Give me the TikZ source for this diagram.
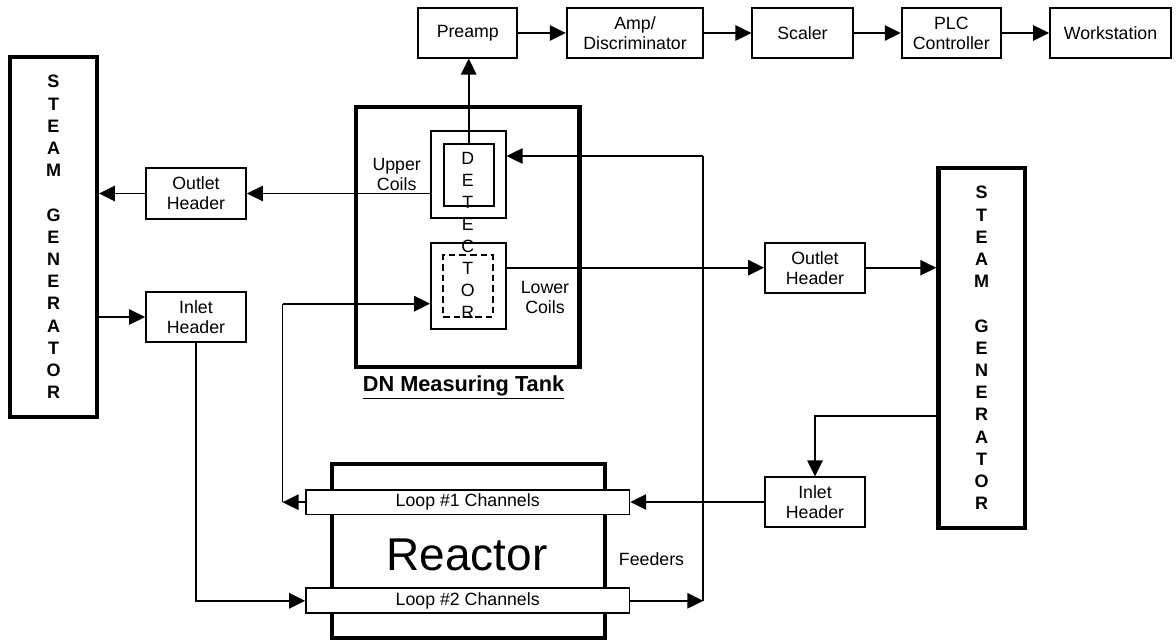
\documentclass[tikz,border=0pt]{standalone}
\usepackage{fontspec}
\setmainfont{Liberation Sans}
\usetikzlibrary{arrows.meta}
\begin{document}
\begin{tikzpicture}[x=0.75pt,y=-0.75pt,
  ln/.style={line width=1.3pt},
  arr/.style={line width=1.3pt, -{Triangle[length=12pt,width=11.5pt]}},
  box/.style={draw, line width=1.3pt, inner sep=0pt, align=center, font=\fontsize{13.3}{15}\selectfont},
  heavy/.style={draw, line width=3.2pt, inner sep=0pt},
  sgbox/.style={heavy, minimum width=65pt, minimum height=270pt, align=center, font=\fontsize{13.5}{16.65}\bfseries\selectfont},
  lbl/.style={inner sep=0pt, align=center, font=\fontsize{13.3}{15}\selectfont},
]
\fill[white] (0,0) rectangle (1176,641);
\useasboundingbox (0,0) rectangle (1176,641);

% top chain
\node[box, minimum width=74.25pt, minimum height=37pt] (preamp) at (467.8,33) {Preamp};
\node[box, minimum width=102.5pt, minimum height=37pt] (amp) at (635,33) {Amp/\\Discriminator};
\node[box, minimum width=75.3pt, minimum height=37pt] (scaler) at (802.5,33) {Scaler};
\node[box, minimum width=74.5pt, minimum height=37pt] (plc) at (951.3,33) {PLC\\Controller};
\node[box, minimum width=90.75pt, minimum height=37pt] (ws) at (1110.5,33) {Workstation};
\draw[arr] (preamp) -- (amp);
\draw[arr] (amp) -- (scaler);
\draw[arr] (scaler) -- (plc);
\draw[arr] (plc) -- (ws);

% steam generators
\node[sgbox] (sgL) at (53.5,237) {S\\T\\E\\A\\M\\[16.65pt]G\\E\\N\\E\\R\\A\\T\\O\\R};
\node[sgbox] (sgR) at (981.7,348) {S\\T\\E\\A\\M\\[16.65pt]G\\E\\N\\E\\R\\A\\T\\O\\R};

% headers
\node[box, minimum width=75pt, minimum height=38.25pt] (outL) at (196,193.5) {Outlet\\Header};
\node[box, minimum width=75pt, minimum height=38pt] (inL) at (196,317) {Inlet\\Header};
\node[box, minimum width=75pt, minimum height=37.5pt] (outR) at (815,267.7) {Outlet\\Header};
\node[box, minimum width=75pt, minimum height=37pt] (inR) at (815,502) {Inlet\\Header};

% measuring tank
\node[heavy, minimum width=167.6pt, minimum height=195pt] (tank) at (467.75,237) {};
\node[box, minimum width=56.25pt, minimum height=65.25pt] (upcoil) at (468.2,174.8) {};
\node[box, minimum width=37.5pt, minimum height=46.5pt] (detin) at (468.7,175) {};
\node[box, minimum width=56.25pt, minimum height=65pt] (lowcoil) at (468.5,286) {};
\node[box, dashed, dash pattern=on 5pt off 3pt, minimum width=37.5pt, minimum height=46.3pt] (detdash) at (468,285.8) {};
\node[lbl, font=\fontsize{13.3}{16.5}\selectfont] (dettxt) at (467.7,235) {D\\E\\T\\E\\C\\T\\O\\R};
\node[lbl] (uplbl) at (396.7,174) {Upper\\Coils};
\node[lbl] (lowlbl) at (545,297) {Lower\\Coils};
\node[inner sep=0pt, anchor=base, font=\fontsize{16.3}{18}\bfseries\selectfont] (tanklbl) at (463.5,391.7) {\underline{DN Measuring Tank}};

% reactor
\node[heavy, minimum width=205pt, minimum height=130.7pt] (reactor) at (468.3,551.2) {};
\node[inner sep=0pt, font=\fontsize{34.5}{40}\selectfont] (reactortxt) at (467,555) {Reactor};
\node[box, fill=white, minimum width=242.5pt, minimum height=18.25pt] (loop1) at (467.7,502.2) {Loop \#1 Channels};
\node[box, fill=white, minimum width=242.5pt, minimum height=18.75pt] (loop2) at (467.7,600.8) {Loop \#2 Channels};
\node[lbl] (feeders) at (651.5,559) {Feeders};

% coordinates
\coordinate (c1) at (282.5,502.2);
\coordinate (c2) at (282.5,303.7);
\coordinate (c3) at (938.3,415.7);
\coordinate (c4) at (703.3,600.8);
\coordinate (c5) at (703.3,156);

% connectors
\draw[arr] (detin.north) -- (detin.north |- preamp.south);
\draw[arr] (upcoil.west |- outL.east) -- (outL.east);
\draw[arr] (outL.west) -- (outL.west -| sgL.east);
\draw[arr] (inL.west -| sgL.east) -- (inL.west);
\draw[arr] (inL.south) |- (loop2.west);
\draw[arr] (loop1.west) -- (c1);
\draw[ln] (c1) -- (c2);
\draw[arr] (c2) -- (c2 -| lowcoil.west);
\draw[arr] (outR.west -| lowcoil.east) -- (outR.west);
\draw[arr] (outR.east) -- (outR.east -| sgR.west);
\draw[arr] (c3) -| (inR.north);
\draw[arr] (inR.west) -- (inR.west -| loop1.east);
\draw[arr] (loop2.east) -- (c4);
\draw[ln] (c4) -- (c5);
\draw[arr] (c5) -- (c5 -| upcoil.east);
\end{tikzpicture}
\end{document}
